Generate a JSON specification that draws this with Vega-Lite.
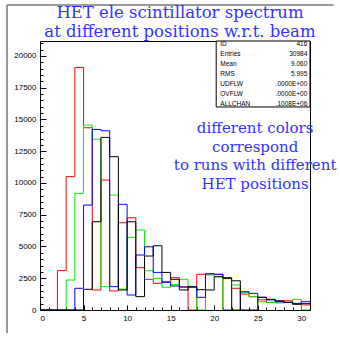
{
"$schema": "https://vega.github.io/schema/vega-lite/v6.json",
"width": 270, "height": 269,
"autosize": {"type": "none"},
"padding": {"left": 40, "top": 41, "right": 30, "bottom": 31},
"background": "white",
"config": {"view": {"stroke": "black", "strokeWidth": 1}, "axis": {"labelFont": "Liberation Sans", "labelFontSize": 8, "labelColor": "black", "tickColor": "black", "domain": false, "grid": false}},
"datasets": {
"h": [
{"run":"1","x":0,"n":0},{"run":"1","x":1,"n":0},{"run":"1","x":2,"n":3100},{"run":"1","x":3,"n":10500},{"run":"1","x":4,"n":19100},{"run":"1","x":5,"n":14350},{"run":"1","x":6,"n":1575},{"run":"1","x":7,"n":10230},{"run":"1","x":8,"n":1500},{"run":"1","x":9,"n":6870},{"run":"1","x":10,"n":7260},{"run":"1","x":11,"n":3330},{"run":"1","x":12,"n":2415},{"run":"1","x":13,"n":2100},{"run":"1","x":14,"n":2230},{"run":"1","x":15,"n":2540},{"run":"1","x":16,"n":1830},{"run":"1","x":17,"n":0},{"run":"1","x":18,"n":2810},{"run":"1","x":19,"n":2850},{"run":"1","x":20,"n":2810},{"run":"1","x":21,"n":0},{"run":"1","x":22,"n":1710},{"run":"1","x":23,"n":1250},{"run":"1","x":24,"n":1050},{"run":"1","x":25,"n":800},{"run":"1","x":26,"n":600},{"run":"1","x":27,"n":650},{"run":"1","x":28,"n":730},{"run":"1","x":29,"n":500},{"run":"1","x":30,"n":400},{"run":"1","x":31,"n":400},
{"run":"2","x":0,"n":0},{"run":"2","x":1,"n":0},{"run":"2","x":2,"n":0},{"run":"2","x":3,"n":2360},{"run":"2","x":4,"n":9180},{"run":"2","x":5,"n":14560},{"run":"2","x":6,"n":13450},{"run":"2","x":7,"n":1840},{"run":"2","x":8,"n":9050},{"run":"2","x":9,"n":1650},{"run":"2","x":10,"n":5720},{"run":"2","x":11,"n":6300},{"run":"2","x":12,"n":3090},{"run":"2","x":13,"n":2490},{"run":"2","x":14,"n":1790},{"run":"2","x":15,"n":2020},{"run":"2","x":16,"n":2415},{"run":"2","x":17,"n":1800},{"run":"2","x":18,"n":0},{"run":"2","x":19,"n":2750},{"run":"2","x":20,"n":2620},{"run":"2","x":21,"n":0},{"run":"2","x":22,"n":1970},{"run":"2","x":23,"n":1370},{"run":"2","x":24,"n":1050},{"run":"2","x":25,"n":650},{"run":"2","x":26,"n":600},{"run":"2","x":27,"n":550},{"run":"2","x":28,"n":600},{"run":"2","x":29,"n":840},{"run":"2","x":30,"n":0},{"run":"2","x":31,"n":0},
{"run":"3","x":0,"n":0},{"run":"3","x":1,"n":0},{"run":"3","x":2,"n":0},{"run":"3","x":3,"n":0},{"run":"3","x":4,"n":1710},{"run":"3","x":5,"n":8260},{"run":"3","x":6,"n":14220},{"run":"3","x":7,"n":14110},{"run":"3","x":8,"n":1840},{"run":"3","x":9,"n":8320},{"run":"3","x":10,"n":1180},{"run":"3","x":11,"n":4330},{"run":"3","x":12,"n":4980},{"run":"3","x":13,"n":2960},{"run":"3","x":14,"n":2180},{"run":"3","x":15,"n":1890},{"run":"3","x":16,"n":1800},{"run":"3","x":17,"n":1800},{"run":"3","x":18,"n":1000},{"run":"3","x":19,"n":2850},{"run":"3","x":20,"n":2810},{"run":"3","x":21,"n":2550},{"run":"3","x":22,"n":0},{"run":"3","x":23,"n":1440},{"run":"3","x":24,"n":1310},{"run":"3","x":25,"n":1000},{"run":"3","x":26,"n":800},{"run":"3","x":27,"n":650},{"run":"3","x":28,"n":600},{"run":"3","x":29,"n":520},{"run":"3","x":30,"n":650},{"run":"3","x":31,"n":650},
{"run":"4","x":0,"n":0},{"run":"4","x":1,"n":0},{"run":"4","x":2,"n":0},{"run":"4","x":3,"n":0},{"run":"4","x":4,"n":0},{"run":"4","x":5,"n":1630},{"run":"4","x":6,"n":6950},{"run":"4","x":7,"n":13590},{"run":"4","x":8,"n":12070},{"run":"4","x":9,"n":1575},{"run":"4","x":10,"n":6950},{"run":"4","x":11,"n":1050},{"run":"4","x":12,"n":4250},{"run":"4","x":13,"n":5060},{"run":"4","x":14,"n":2960},{"run":"4","x":15,"n":2415},{"run":"4","x":16,"n":1575},{"run":"4","x":17,"n":1840},{"run":"4","x":18,"n":1600},{"run":"4","x":19,"n":1575},{"run":"4","x":20,"n":2620},{"run":"4","x":21,"n":2490},{"run":"4","x":22,"n":2300},{"run":"4","x":23,"n":0},{"run":"4","x":24,"n":0},{"run":"4","x":25,"n":1000},{"run":"4","x":26,"n":840},{"run":"4","x":27,"n":730},{"run":"4","x":28,"n":600},{"run":"4","x":29,"n":450},{"run":"4","x":30,"n":500},{"run":"4","x":31,"n":500}
]
},
"layer": [
{"data": {"name": "h"},
 "mark": {"type": "line", "interpolate": "step-after", "strokeWidth": 1, "clip": true},
 "encoding": {
  "x": {"field": "x", "type": "quantitative", "scale": {"domain": [0, 31], "nice": false, "zero": false}, "axis": {"values": [0,5,10,15,20,25,30], "tickSize": -5, "labelPadding": 9, "title": null, "orient": "bottom"}},
  "y": {"field": "n", "type": "quantitative", "scale": {"domain": [0, 21180], "nice": false}, "axis": {"values": [0,2500,5000,7500,10000,12500,15000,17500,20000], "format": "d", "tickSize": -6, "labelPadding": 10, "title": null, "orient": "left"}},
  "color": {"field": "run", "type": "nominal", "scale": {"domain": ["1","2","3","4"], "range": ["#ff0000", "#00ee00", "#0000ff", "#000000"]}, "legend": null}
 }},
{"data": {"values": [{}]},
 "mark": {"type": "point", "opacity": 0},
 "encoding": {
  "x": {"datum": 0, "type": "quantitative", "axis": {"values": [0,1,2,3,4,5,6,7,8,9,10,11,12,13,14,15,16,17,18,19,20,21,22,23,24,25,26,27,28,29,30,31], "tickSize": -3, "labels": false, "title": null, "orient": "bottom"}},
  "y": {"datum": 0, "type": "quantitative", "axis": {"values": [0,500,1000,1500,2000,2500,3000,3500,4000,4500,5000,5500,6000,6500,7000,7500,8000,8500,9000,9500,10000,10500,11000,11500,12000,12500,13000,13500,14000,14500,15000,15500,16000,16500,17000,17500,18000,18500,19000,19500,20000,20500,21000], "tickSize": -3, "labels": false, "title": null, "orient": "left"}}
 }},
{"data": {"values": [{}]},
 "mark": {"type": "rule", "stroke": "#999999", "strokeWidth": 2, "clip": false},
 "encoding": {"x": {"datum": -3.79, "type": "quantitative", "axis": null}, "y": {"datum": 24016, "type": "quantitative", "axis": null}, "y2": {"datum": -1811}}},
{"data": {"values": [{}]},
 "mark": {"type": "rule", "stroke": "#999999", "strokeWidth": 2, "clip": false},
 "encoding": {"x": {"datum": -3.79, "type": "quantitative", "axis": null}, "x2": {"datum": 33.7}, "y": {"datum": 24016, "type": "quantitative", "axis": null}}},
{"data": {"values": [{}]},
 "mark": {"type": "text", "align": "center", "baseline": "alphabetic", "font": "DejaVu Serif", "fontSize": 16.5, "lineHeight": 18.4, "color": "#3333ff", "clip": false},
 "encoding": {"x": {"datum": 16.07, "type": "quantitative", "axis": null}, "y": {"datum": 22968, "type": "quantitative", "axis": null}, "text": {"value": ["HET ele scintillator spectrum", "at different positions w.r.t. beam"]}}},
{"data": {"values": [{}]},
 "mark": {"type": "rect", "fill": "white", "stroke": "black", "strokeWidth": 1},
 "encoding": {"x": {"datum": 20.23, "type": "quantitative", "axis": null}, "x2": {"datum": 31}, "y": {"datum": 21180, "type": "quantitative", "axis": null}, "y2": {"datum": 15985}}},
{"data": {"values": [{}]},
 "mark": {"type": "text", "align": "left", "baseline": "middle", "font": "Liberation Sans", "fontSize": 6.5, "lineHeight": 9.9, "color": "black"},
 "encoding": {"x": {"datum": 20.7, "type": "quantitative", "axis": null}, "y": {"datum": 20905, "type": "quantitative", "axis": null}, "text": {"value": ["ID", "Entries", "Mean", "RMS", "UDFLW", "OVFLW", "ALLCHAN"]}}},
{"data": {"values": [{}]},
 "mark": {"type": "text", "align": "right", "baseline": "middle", "font": "Liberation Sans", "fontSize": 6.5, "lineHeight": 9.9, "color": "black"},
 "encoding": {"x": {"datum": 30.69, "type": "quantitative", "axis": null}, "y": {"datum": 20905, "type": "quantitative", "axis": null}, "text": {"value": ["416", "30984", "9.060", "5.995", ".0000E+00", ".0000E+00", ".1008E+06"]}}},
{"data": {"values": [{}]},
 "mark": {"type": "text", "align": "center", "baseline": "middle", "font": "DejaVu Serif", "fontSize": 15, "lineHeight": 18.7, "color": "#3333ff"},
 "encoding": {"x": {"datum": 24.7, "type": "quantitative", "axis": null}, "y": {"datum": 14330, "type": "quantitative", "axis": null}, "text": {"value": ["different colors", "correspond", "to runs with different", "HET positions"]}}}
],
"resolve": {"axis": {"x": "independent", "y": "independent"}}
}
